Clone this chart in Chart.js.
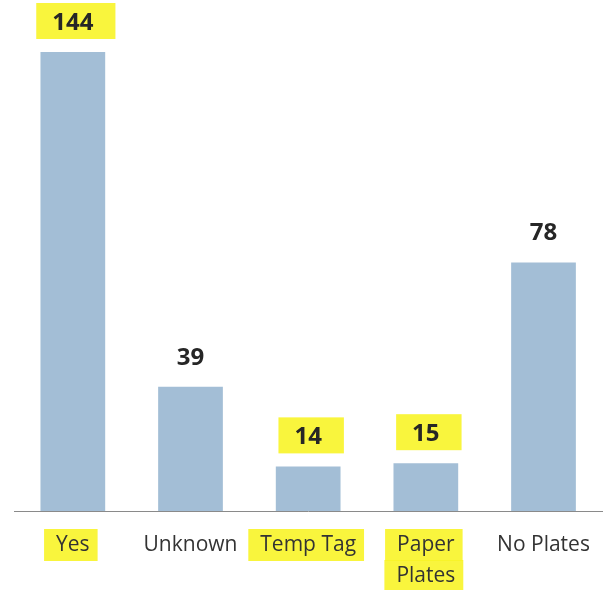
<!DOCTYPE html>
<html lang="en">
<head>
<meta charset="UTF-8">
<title>Plates</title>
<script src="https://cdn.jsdelivr.net/npm/chart.js@4.4.0/dist/chart.umd.min.js"></script>
<style>
    body { margin: 0; background: #fff; }
    .chart-container { position: relative; width: 609px; height: 590px; }
</style>
</head>
<body>
<div class="chart-container">
    <canvas id="plateChart"></canvas>
</div>
<script>
    // chart data
    const categories = ['Yes', 'Unknown', 'Temp Tag', ['Paper', 'Plates'], 'No Plates'];
    const counts = [144, 39, 14, 15, 78];
    const highlightValue = [true, false, true, true, false];
    const highlightLabel = [true, false, true, true, false];

    const barColor = '#a3bed6';
    const marker = 'rgba(248, 244, 40, 0.9)';
    const labelFont = '"Open Sans", "Liberation Sans", sans-serif';
    const tickSize = 21;
    const lineGap = 31;

    // yellow highlighter marks (under everything) + value labels
    const highlighter = {
        id: 'highlighter',
        beforeDraw(chart) {
            const ctx = chart.ctx;
            const meta = chart.getDatasetMeta(0);
            const xScale = chart.scales.x;
            ctx.save();
            ctx.fillStyle = marker;
            meta.data.forEach((bar, i) => {
                if (highlightValue[i]) {
                    ctx.font = 'bold 24px ' + labelFont;
                    const w = ctx.measureText(String(counts[i])).width;
                    ctx.fillRect(bar.x - w / 2 - 16, bar.y - 49, w + 38, 36);
                }
                if (highlightLabel[i]) {
                    ctx.font = tickSize + 'px ' + labelFont;
                    const lines = Array.isArray(categories[i]) ? categories[i] : [categories[i]];
                    lines.forEach((line, k) => {
                        const w = ctx.measureText(line).width;
                        const cx = xScale.getPixelForValue(i);
                        ctx.fillRect(cx - w / 2 - 12, xScale.top + 18 + k * lineGap, w + 20, 32);
                    });
                }
            });
            ctx.restore();
        },
        afterDatasetsDraw(chart) {
            const ctx = chart.ctx;
            const meta = chart.getDatasetMeta(0);
            ctx.save();
            ctx.font = 'bold 24px ' + labelFont;
            ctx.fillStyle = '#262626';
            ctx.textAlign = 'center';
            ctx.textBaseline = 'middle';
            meta.data.forEach((bar, i) => {
                ctx.fillText(String(counts[i]), bar.x, bar.y - 29);
            });
            ctx.restore();
        }
    };

    const ctx = document.getElementById('plateChart').getContext('2d');
    new Chart(ctx, {
        type: 'bar',
        data: {
            labels: categories,
            datasets: [{
                data: counts,
                backgroundColor: barColor,
                borderWidth: 0,
                barPercentage: 1,
                categoryPercentage: 0.55
            }]
        },
        options: {
            responsive: true,
            maintainAspectRatio: false,
            animation: false,
            layout: { padding: { top: 52, left: 14, right: 1, bottom: 0 } },
            plugins: {
                legend: { display: false },
                tooltip: { enabled: false }
            },
            scales: {
                x: {
                    grid: { display: false, drawTicks: false },
                    border: { display: true, color: '#8a8a8a', width: 1 },
                    ticks: {
                        color: '#333',
                        padding: 19,
                        maxRotation: 0,
                        autoSkip: false,
                        font: { family: labelFont, size: tickSize, lineHeight: lineGap / tickSize }
                    },
                    afterFit(scale) {
                        scale.height = 79;
                    }
                },
                y: {
                    display: false,
                    min: 0,
                    max: 144
                }
            }
        },
        plugins: [highlighter]
    });
</script>
</body>
</html>
